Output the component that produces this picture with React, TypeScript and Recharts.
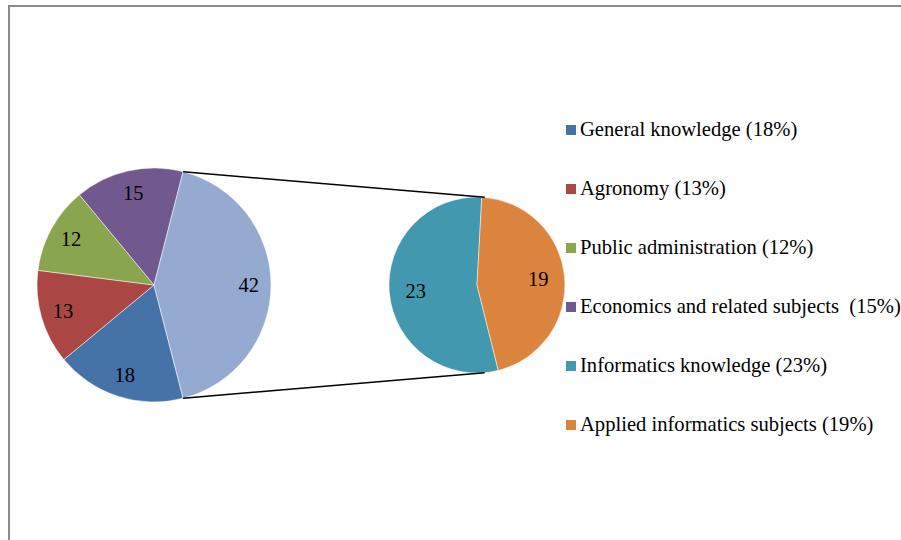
import React from 'react'
import { PieChart, Pie, Cell, Legend } from 'recharts'

// main pie: the last slice ("Other") is split out into the second pie
const mainNames = ['General knowledge', 'Agronomy', 'Public administration', 'Economics and related subjects', 'Other']
const mainValues = [18, 13, 12, 15, 42]
const subNames = ['Informatics knowledge', 'Applied informatics subjects']
const subValues = [23, 19]
const legendLabels = [
  'General knowledge (18%)',
  'Agronomy (13%)',
  'Public administration (12%)',
  'Economics and related subjects  (15%)',
  'Informatics knowledge (23%)',
  'Applied informatics subjects (19%)',
]

const mainColors = ['#4573a7', '#aa4643', '#89a54e', '#71588f', '#95aad1']
const subColors = ['#4198af', '#db843d']
const legendColors = ['#4573a7', '#aa4643', '#89a54e', '#71588f', '#4198af', '#db843d']

const mainData = mainNames.map((name, i) => ({ name, value: mainValues[i] }))
const subData = subNames.map((name, i) => ({ name, value: subValues[i] }))

const FONT = 'Liberation Serif'
const RAD = Math.PI / 180

const LEFT = { cx: 154, cy: 285, r: 117 }
const RIGHT = { cx: 477, cy: 285, r: 88 }

// "Other" slice is centred on the east side of the left pie
const otherSpan = (mainValues[4] / mainValues.reduce((a, b) => a + b, 0)) * 360
const mainStart = otherSpan / 2 + 360 - otherSpan
const subStart = 284

const makeLabel = (factor: number) => (props: any) => {
  const { cx, cy, midAngle, outerRadius, value } = props
  const r = outerRadius * factor
  const x = cx + r * Math.cos(-midAngle * RAD)
  const y = cy + r * Math.sin(-midAngle * RAD)
  return (
    <text x={x} y={y} textAnchor="middle" dominantBaseline="central" fill="#000" fontSize={20.5} fontFamily={FONT}>
      {value}
    </text>
  )
}

const LegendBox = () => (
  <div style={{ fontFamily: FONT, fontSize: 20.6, color: '#000' }}>
    {legendLabels.map((label, i) => (
      <div key={label} style={{ height: 59, display: 'flex', alignItems: 'center', whiteSpace: 'pre' }}>
        <span style={{ display: 'inline-block', width: 10, height: 10, background: legendColors[i], marginRight: 4 }} />
        <span>{label}</span>
      </div>
    ))}
  </div>
)

function pt(c: { cx: number; cy: number; r: number }, deg: number) {
  return { x: c.cx + c.r * Math.cos(-deg * RAD), y: c.cy + c.r * Math.sin(-deg * RAD) }
}

export default function App() {
  const a1 = pt(LEFT, otherSpan / 2)
  const a2 = pt(LEFT, -otherSpan / 2)
  const b1 = pt(RIGHT, 85)
  const b2 = pt(RIGHT, -85)

  return (
    <div style={{ position: 'absolute', left: 0, top: 0, width: 901, height: 540, overflow: 'hidden', background: '#fff' }}>
      <div style={{ position: 'absolute', left: 8, top: 5, width: 1000, height: 1000, borderTop: '2px solid #8a8a8a', borderLeft: '2px solid #8a8a8a' }} />
      <div style={{ position: 'absolute', left: 0, top: 0 }}>
        <PieChart width={901} height={540} margin={{ top: 0, right: 0, bottom: 0, left: 0 }}>
          <Pie
            data={mainData}
            dataKey="value"
            nameKey="name"
            cx={LEFT.cx}
            cy={LEFT.cy}
            outerRadius={LEFT.r}
            startAngle={mainStart}
            endAngle={mainStart - 360}
            stroke="#ffffff"
            strokeWidth={0.5}
            labelLine={false}
            label={makeLabel(0.81)}
            isAnimationActive={false}
          >
            {mainData.map((d, i) => (
              <Cell key={d.name} fill={mainColors[i]} />
            ))}
          </Pie>
          <Pie
            data={subData}
            dataKey="value"
            nameKey="name"
            cx={RIGHT.cx}
            cy={RIGHT.cy}
            outerRadius={RIGHT.r}
            startAngle={subStart}
            endAngle={subStart - 360}
            stroke="#ffffff"
            strokeWidth={0.5}
            labelLine={false}
            label={makeLabel(0.7)}
            isAnimationActive={false}
          >
            {subData.map((d, i) => (
              <Cell key={d.name} fill={subColors[i]} />
            ))}
          </Pie>
          <Legend
            layout="vertical"
            verticalAlign="top"
            align="right"
            content={<LegendBox />}
            wrapperStyle={{ left: 566, top: 100, width: 400 }}
          />
        </PieChart>
      </div>
      <svg width={901} height={540} style={{ position: 'absolute', left: 0, top: 0, pointerEvents: 'none' }}>
        <line x1={a1.x} y1={a1.y} x2={b1.x} y2={b1.y} stroke="#000" strokeWidth={1.5} />
        <line x1={a2.x} y1={a2.y} x2={b2.x} y2={b2.y} stroke="#000" strokeWidth={1.5} />
      </svg>
    </div>
  )
}
